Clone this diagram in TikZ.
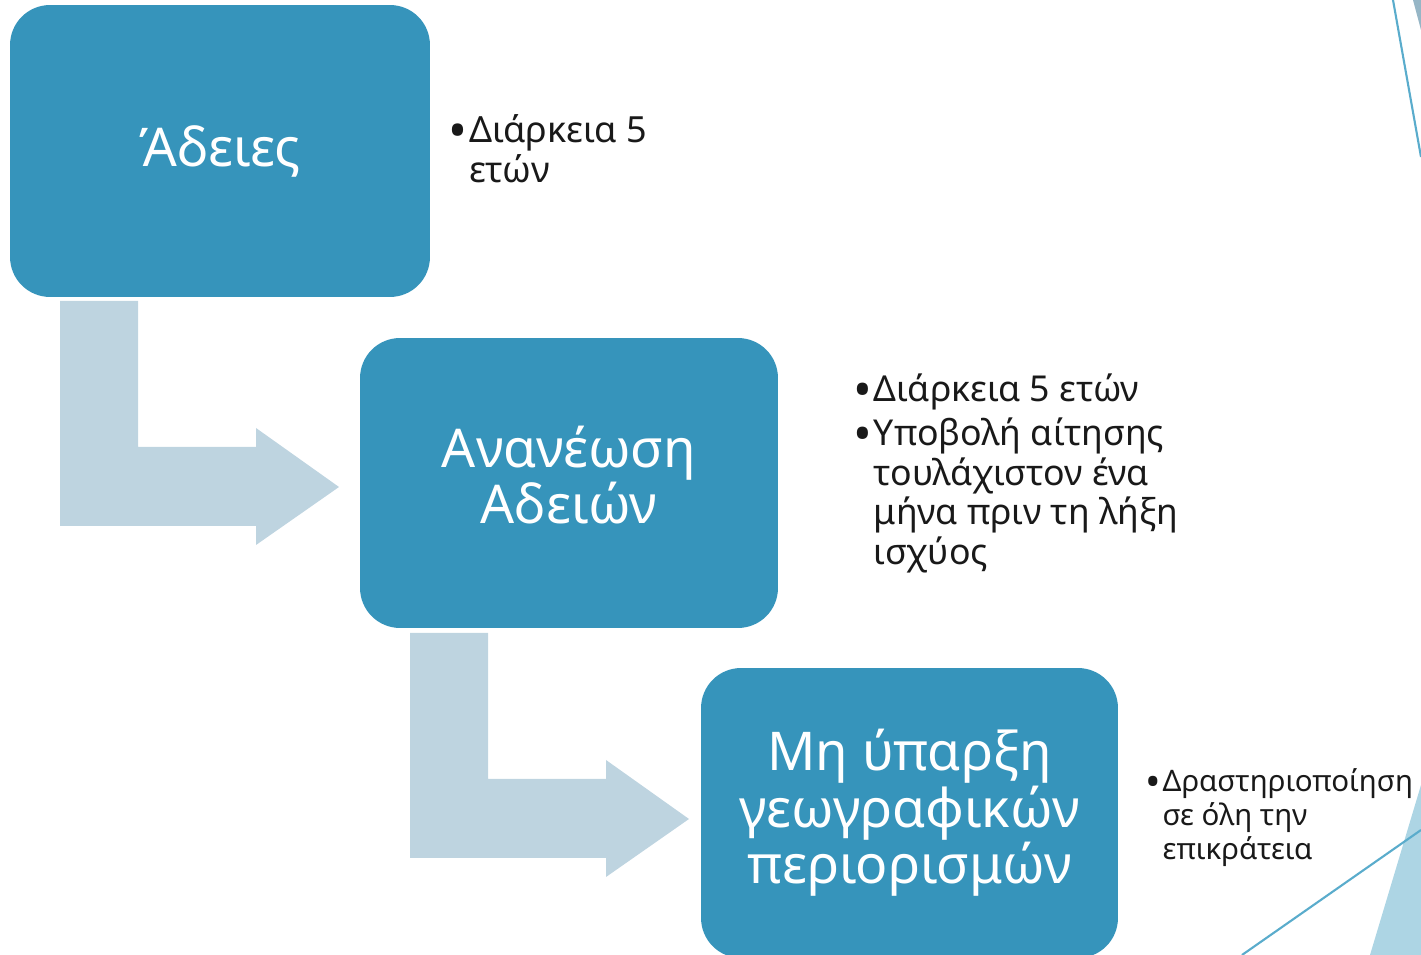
\documentclass[tikz,border=0pt]{standalone}
\usepackage{fontspec}
\usepackage{graphicx}
\setmainfont{Noto Sans}
\definecolor{boxblue}{RGB}{54,148,187}
\definecolor{arrowblue}{RGB}{190,212,224}
\definecolor{decoline}{RGB}{90,172,204}
\definecolor{decotri}{RGB}{173,213,228}
\definecolor{decogray}{RGB}{150,182,198}
\definecolor{txt}{RGB}{25,25,25}
\newcommand{\bigbul}{\smash{\raisebox{-0.15em}{\scalebox{1.4}{•}}}\hspace{2pt}}
\tikzset{
  stagebox/.style={rectangle, rounded corners=0.8cm, fill=boxblue, text=white, align=center,
    inner sep=0pt, font=\fontsize{30.4}{32.2}\selectfont},
  bendarrow/.style={fill=arrowblue, draw=none},
  bullets/.style={anchor=base west, inner sep=0pt, text=txt, align=left},
}
\begin{document}
\begin{tikzpicture}[x=0.02cm,y=-0.02cm]
\useasboundingbox (0,0) rectangle (1421,955);
\begin{scope}
\clip (0,0) rectangle (1421,955);
% decorations
\fill[decotri] (1421,785) -- (1370,955) -- (1421,955) -- cycle;
\fill[decogray] (1413,0) -- (1421,0) -- (1421,30) -- cycle;
\coordinate (d1a) at (1393,0);
\coordinate (d1b) at (1421,157);
\coordinate (d2a) at (1242,955);
\coordinate (d2b) at (1421,830);
\draw[decoline, line width=1.2pt] (d1a) -- (d1b);
\draw[decoline, line width=1.2pt] (d2a) -- (d2b);
% bent arrows
\fill[bendarrow] (60,301) -- (138,301) -- (138,447) -- (256,447) -- (256,428) -- (339,487) -- (256,545) -- (256,526) -- (60,526) -- cycle;
\fill[bendarrow] (410,633) -- (488,633) -- (488,779) -- (606,779) -- (606,760) -- (689,819) -- (606,877) -- (606,858) -- (410,858) -- cycle;
% boxes
\node[stagebox, minimum width=8.4cm, minimum height=5.84cm] (b1) at (220,151) {Άδειες};
\node[stagebox, minimum width=8.36cm, minimum height=5.8cm] (b2) at (569,483) {Ανανέωση\\Αδειών\rule[-0.3em]{0pt}{0pt}};
\node[stagebox, minimum width=8.34cm, minimum height=5.8cm] (b3) at (909.5,813) {Μη ύπαρξη\\γεωγραφικών\\περιορισμών\rule[-0.2em]{0pt}{0pt}};
\end{scope}
% bullet texts
\node[bullets, font=\fontsize{20.5}{22.3}\selectfont] (t1) at (448,143) {%
\begin{tabular}[t]{@{}l@{\hspace{1pt}}l@{}}
\bigbul&Διάρκεια 5\\
&ετών
\end{tabular}};
\node[bullets, font=\fontsize{20.3}{22.3}\selectfont] (t2) at (853,402) {%
\begin{tabular}[t]{@{}l@{\hspace{1pt}}l@{}}
\bigbul&Διάρκεια 5 ετών\\[2.5pt]
\bigbul&Υποβολή αίτησης\\
&τουλάχιστον ένα\\
&μήνα πριν τη λήξη\\
&ισχύος
\end{tabular}};
\node[bullets, font=\fontsize{16.8}{19.3}\selectfont] (t3) at (1145,792) {%
\begin{tabular}[t]{@{}l@{\hspace{1pt}}l@{}}
\bigbul&Δραστηριοποίηση\\
&σε όλη την\\
&επικράτεια
\end{tabular}};
\end{tikzpicture}
\end{document}
